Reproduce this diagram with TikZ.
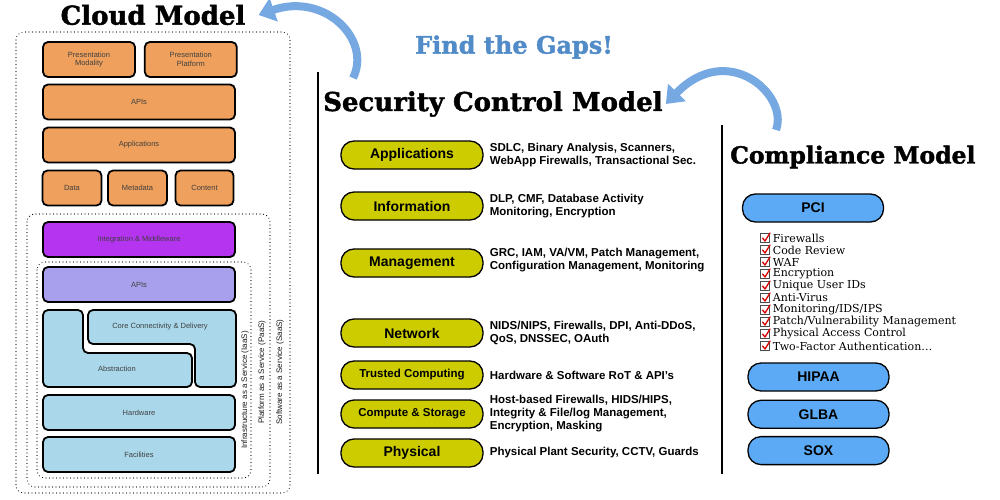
\documentclass[tikz,border=0pt]{standalone}
\usepackage{fontspec}
\setmainfont{DejaVu Serif}
\setsansfont{Liberation Sans}
\newfontfamily\heavyslab{DejaVu Serif}[BoldFeatures={FakeBold=1.5}]
\usetikzlibrary{arrows.meta,positioning}
\definecolor{cloudorange}{RGB}{239,160,92}
\definecolor{midpurple}{RGB}{180,52,240}
\definecolor{lavender}{RGB}{168,160,236}
\definecolor{iceblue}{RGB}{170,216,234}
\definecolor{ctrlyellow}{RGB}{204,204,0}
\definecolor{compblue}{RGB}{92,170,245}
\definecolor{gapblue}{RGB}{82,140,200}
\definecolor{swoosh}{RGB}{118,168,226}
\tikzset{
layer/.style={draw,line width=1.8pt,rounded corners=5pt,inner sep=0pt,align=center,font=\sffamily\fontsize{7.5}{8.5}\selectfont,text=black!75},
zone/.style={draw,line width=1.1pt,dash pattern=on 0pt off 3.5pt,line cap=round,rounded corners=8pt},
svc/.style={rotate=90,inner sep=0pt,font=\sffamily\fontsize{8}{9}\selectfont,text=black!90},
ctrl/.style={draw,line width=1.3pt,fill=ctrlyellow,rounded corners=13pt,minimum width=142pt,minimum height=28pt,font=\sffamily\bfseries\fontsize{14}{15}\selectfont},
ctrlsmall/.style={ctrl,font=\sffamily\bfseries\fontsize{11.5}{13}\selectfont},
comp/.style={draw,line width=1.3pt,fill=compblue,rounded corners=13pt,minimum width=141pt,minimum height=28pt,font=\sffamily\bfseries\fontsize{14}{15}\selectfont},
desc/.style={align=left,inner sep=0pt,font=\sffamily\bfseries\fontsize{11.5}{13}\selectfont},
heading/.style={inner sep=0pt,font=\heavyslab\bfseries\fontsize{26}{28}\selectfont},
chkbox/.style={draw=black!70,line width=.8pt,minimum size=8.5pt,inner sep=0pt,fill=white},
chkitem/.style={inner sep=0pt,font=\fontsize{11}{12}\selectfont},
tick/.style={draw=red!85!black,line width=1.3pt,line cap=round,line join=round},
gap/.style={draw=swoosh,line width=8pt,-{Triangle[length=16pt,width=24pt]}},
}
\begin{document}
\begin{tikzpicture}[x=1pt,y=-1pt,node distance=8pt]
\useasboundingbox (0,0) rectangle (1000,500);
% headings
\node[heading](cloudttl) at (153,15){Cloud Model};
\node[heading,text=gapblue,font=\heavyslab\bfseries\fontsize{24}{26}\selectfont](gapttl) at (514,47){Find the Gaps!};
\node[heading,anchor=west](secttl) at (323,104){Security Control Model};
\node[heading,anchor=west,font=\heavyslab\bfseries\fontsize{23.5}{26}\selectfont](compttl) at (730,157){Compliance Model};
% cloud model
\draw[zone](16,32)rectangle(290,493);
\draw[zone](27,214)rectangle(270,487);
\draw[zone](37,262)rectangle(251,478);
\node[layer,fill=cloudorange,minimum width=92pt,minimum height=35pt](pmod) at (89,59.5){Presentation\\Modality};
\node[layer,fill=cloudorange,minimum width=92pt,minimum height=35pt,right=of pmod](pplat){Presentation\\Platform};
\node[layer,fill=cloudorange,minimum width=192pt,minimum height=35pt](capis) at (139,102){APIs};
\node[layer,fill=cloudorange,minimum width=192pt,minimum height=35pt](capps) at (139,145){Applications};
\node[layer,fill=cloudorange,minimum width=59pt,minimum height=35pt](data) at (72,188){Data};
\node[layer,fill=cloudorange,minimum width=59pt,minimum height=35pt](meta) at (137.5,188){Metadata};
\node[layer,fill=cloudorange,minimum width=58pt,minimum height=35pt](content) at (204.5,188){Content};
\node[layer,fill=midpurple,minimum width=192pt,minimum height=35pt](integ) at (139,239.5){Integration \& Middleware};
\node[layer,fill=lavender,minimum width=192pt,minimum height=35pt](iapis) at (139,284.5){APIs};
\draw[line width=1.8pt,rounded corners=5pt,fill=iceblue](43,310)--(83,310)--(83,353)--(192,353)--(192,387)--(43,387)--cycle;
\draw[line width=1.8pt,rounded corners=5pt,fill=iceblue](88,310)--(236,310)--(236,387)--(195,387)--(195,344)--(88,344)--cycle;
\node[layer,draw=none](core) at (160,327){Core Connectivity \& Delivery};
\node[layer,draw=none](abstr) at (117,369){Abstraction};
\node[layer,fill=iceblue,minimum width=192pt,minimum height=35pt](hw) at (139,412.5){Hardware};
\node[layer,fill=iceblue,minimum width=192pt,minimum height=35pt](fac) at (139,454.5){Facilities};
\node[svc](iaas) at (245,390){Infrastructure as a Service (IaaS)};
\node[svc](paas) at (262,372){Platform as a Service (PaaS)};
\node[svc](saas) at (280,372){Software as a Service (SaaS)};
% separators
\draw[line width=1.5pt](318,72)--(318,474);
\draw[line width=1.5pt](722,125)--(722,474);
% security control model
\node[ctrl](sapp) at (412,155){Applications};
\node[ctrl](sinfo) at (412,206){Information};
\node[ctrl](smgmt) at (412,263){Management};
\node[ctrl](snet) at (412,333){Network};
\node[ctrlsmall](strust) at (412,375){Trusted Computing};
\node[ctrlsmall](scomp) at (412,414){Compute \& Storage};
\node[ctrl](sphys) at (412,453){Physical};
\node[desc,right=6pt of sapp]{SDLC, Binary Analysis, Scanners,\\WebApp Firewalls, Transactional Sec.};
\node[desc,right=6pt of sinfo]{DLP, CMF, Database Activity\\Monitoring, Encryption};
\node[desc,right=6pt of smgmt,yshift=3pt]{GRC, IAM, VA/VM, Patch Management,\\Configuration Management, Monitoring};
\node[desc,right=6pt of snet]{NIDS/NIPS, Firewalls, DPI, Anti-DDoS,\\QoS, DNSSEC, OAuth};
\node[desc,right=6pt of strust]{Hardware \& Software RoT \& API's};
\node[desc,right=6pt of scomp]{Host-based Firewalls, HIDS/HIPS,\\Integrity \& File/log Management,\\Encryption, Masking};
\node[desc,right=6pt of sphys]{Physical Plant Security, CCTV, Guards};
% compliance model
\node[comp](pci) at (813,208){PCI};
\foreach \req [count=\i from 0] in {Firewalls,Code Review,WAF,Encryption,Unique User IDs,Anti-Virus,Monitoring/IDS/IPS,Patch/Vulnerability Management,Physical Access Control,Two-Factor Authentication\ldots}{
  \node[chkbox](box\i) at (765,{238+12*\i}){};
  \draw[tick](box\i.center)++(-2.5,0)--++(2.5,3)--++(5,-8);
  \node[chkitem,right=3pt of box\i]{\req};
}
\node[comp](hipaa) at (818.5,377){HIPAA};
\node[comp,below=of hipaa](glba){GLBA};
\node[comp,below=7pt of glba](sox){SOX};
% gap arrows
\coordinate(gapa) at (353,78);
\coordinate(gapb) at (776,130);
\draw[gap](gapa)..controls(372,40)and(325,-8)..([xshift=13pt]cloudttl.east);
\draw[gap](gapb)..controls(789,95)and(728,40)..([xshift=3pt]secttl.east);
\end{tikzpicture}
\end{document}
